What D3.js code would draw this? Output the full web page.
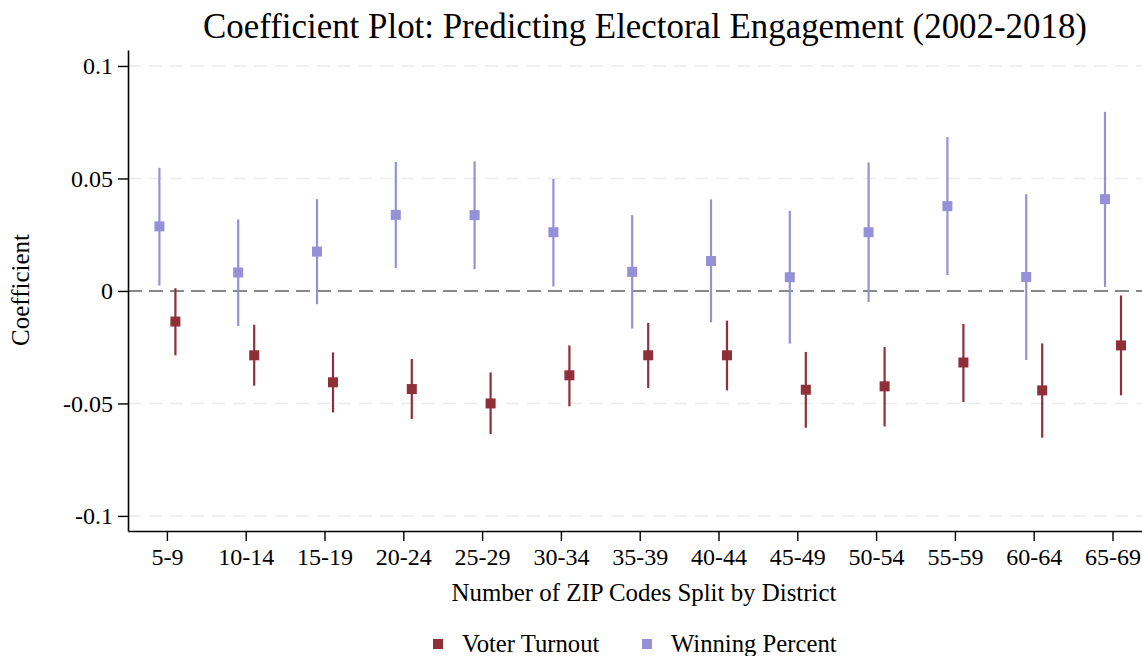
<!DOCTYPE html>
<html>
<head>
<meta charset="utf-8">
<script src="https://cdn.jsdelivr.net/npm/d3@7"></script>
<style>
  body { margin: 0; background: #fff; }
  text { font-family: "Liberation Serif", "Times New Roman", serif; fill: #000; }
</style>
</head>
<body>
<div id="chart"></div>
<script>
// categories and tick labels
const categories = ["5-9", "10-14", "15-19", "20-24", "25-29", "30-34", "35-39",
  "40-44", "45-49", "50-54", "55-59", "60-64", "65-69"];
const yTicks = [-0.1, -0.05, 0, 0.05, 0.1];
const yTickLabels = ["-0.1", "-0.05", "0", "0.05", "0.1"];
const seriesNames = ["Voter Turnout", "Winning Percent"];

// Voter Turnout: point estimate and CI
const turnoutCoef = [-0.0136, -0.0286, -0.0406, -0.0436, -0.0500, -0.0375, -0.0286,
  -0.0286, -0.0439, -0.0424, -0.0318, -0.0442, -0.0242];
const turnoutLo = [-0.0286, -0.0421, -0.0540, -0.0569, -0.0636, -0.0513, -0.0431,
  -0.0442, -0.0608, -0.0602, -0.0494, -0.0652, -0.0464];
const turnoutHi = [0.0012, -0.0150, -0.0273, -0.0302, -0.0362, -0.0242, -0.0142,
  -0.0132, -0.0271, -0.0249, -0.0147, -0.0233, -0.0020];

// Winning Percent: point estimate and CI
const winCoef = [0.0287, 0.0082, 0.0175, 0.0338, 0.0337, 0.0261, 0.0085,
  0.0133, 0.0061, 0.0261, 0.0377, 0.0062, 0.0408];
const winLo = [0.0024, -0.0156, -0.0059, 0.0102, 0.0097, 0.0020, -0.0167,
  -0.0139, -0.0234, -0.0049, 0.0071, -0.0307, 0.0018];
const winHi = [0.0547, 0.0318, 0.0408, 0.0574, 0.0576, 0.0498, 0.0337,
  0.0407, 0.0356, 0.0571, 0.0684, 0.0430, 0.0796];

const width = 1142, height = 656;
const colors = { turnout: "#8f2f38", win: "#9690d6" };

let svg = d3.select("#chart").append("svg")
  .attr("width", width).attr("height", height);

// scales
let x = d3.scaleBand().domain(categories).range([128, 1152.4]).padding(0);
let y = d3.scaleLinear().domain([-0.1067, 0.1071]).range([531, 50]);
const cx = d => x(d) + x.bandwidth() / 2;

// grid lines
svg.append("g")
  .selectAll("line")
  .data(yTicks.filter(v => v !== 0))
  .enter()
  .append("line")
  .attr("x1", 128).attr("x2", width)
  .attr("y1", d => y(d)).attr("y2", d => y(d))
  .attr("stroke", "#ececec")
  .attr("stroke-width", 1.5)
  .attr("stroke-dasharray", "13,8");

// zero reference line
svg.append("line")
  .attr("x1", 128).attr("x2", width)
  .attr("y1", y(0)).attr("y2", y(0))
  .attr("stroke", "#888")
  .attr("stroke-width", 2)
  .attr("stroke-dasharray", "14,7");

// y axis
let yAxis = svg.append("g")
  .attr("transform", "translate(128,0)")
  .call(d3.axisLeft(y)
    .tickValues(yTicks)
    .tickFormat((d, i) => yTickLabels[i])
    .tickSize(10)
    .tickSizeOuter(0)
    .tickPadding(5));

// x axis
let xAxis = svg.append("g")
  .attr("transform", "translate(0,531)")
  .call(d3.axisBottom(x)
    .tickSize(10)
    .tickSizeOuter(0)
    .tickPadding(7));

[yAxis, xAxis].forEach(a => {
  a.select(".domain").attr("stroke", "#000").attr("stroke-width", 1.6);
  a.selectAll(".tick line").attr("stroke", "#000").attr("stroke-width", 1.4);
  a.selectAll(".tick text")
    .style("font-family", '"Liberation Serif", "Times New Roman", serif')
    .style("font-size", "24px")
    .attr("fill", "#000");
});
xAxis.selectAll(".tick text").attr("dy", "0.71em");

// series
let series = [
  { name: seriesNames[0], coef: turnoutCoef, lo: turnoutLo, hi: turnoutHi, color: colors.turnout, off: 8 },
  { name: seriesNames[1], coef: winCoef, lo: winLo, hi: winHi, color: colors.win, off: -8 }
];

series.forEach(s => {
  let rows = categories.map((c, i) => ({ cat: c, coef: s.coef[i], lo: s.lo[i], hi: s.hi[i] }));
  let g = svg.append("g");

  // confidence intervals
  g.selectAll("line")
    .data(rows)
    .enter()
    .append("line")
    .attr("x1", d => cx(d.cat) + s.off)
    .attr("x2", d => cx(d.cat) + s.off)
    .attr("y1", d => y(d.lo))
    .attr("y2", d => y(d.hi))
    .attr("stroke", s.color)
    .attr("stroke-width", 2.2);

  // point estimates
  g.selectAll("rect")
    .data(rows)
    .enter()
    .append("rect")
    .attr("x", d => cx(d.cat) + s.off - 5)
    .attr("y", d => y(d.coef) - 5)
    .attr("width", 10)
    .attr("height", 10)
    .attr("fill", s.color);
});

// title and axis titles
svg.append("text")
  .attr("x", 645).attr("y", 38)
  .attr("text-anchor", "middle")
  .style("font-size", "34.9px")
  .text("Coefficient Plot: Predicting Electoral Engagement (2002-2018)");

svg.append("text")
  .attr("x", 644).attr("y", 601)
  .attr("text-anchor", "middle")
  .style("font-size", "24.9px")
  .text("Number of ZIP Codes Split by District");

svg.append("text")
  .attr("transform", "translate(29,290) rotate(-90)")
  .attr("text-anchor", "middle")
  .style("font-size", "25px")
  .text("Coefficient");

// legend
let legendX = [433, 642];
let legend = svg.append("g");
series.forEach((s, i) => {
  legend.append("rect")
    .attr("x", legendX[i]).attr("y", 639)
    .attr("width", 10).attr("height", 10)
    .attr("fill", s.color);
  legend.append("text")
    .attr("x", legendX[i] + 29).attr("y", 652)
    .style("font-size", "24.7px")
    .text(s.name);
});
</script>
</body>
</html>
